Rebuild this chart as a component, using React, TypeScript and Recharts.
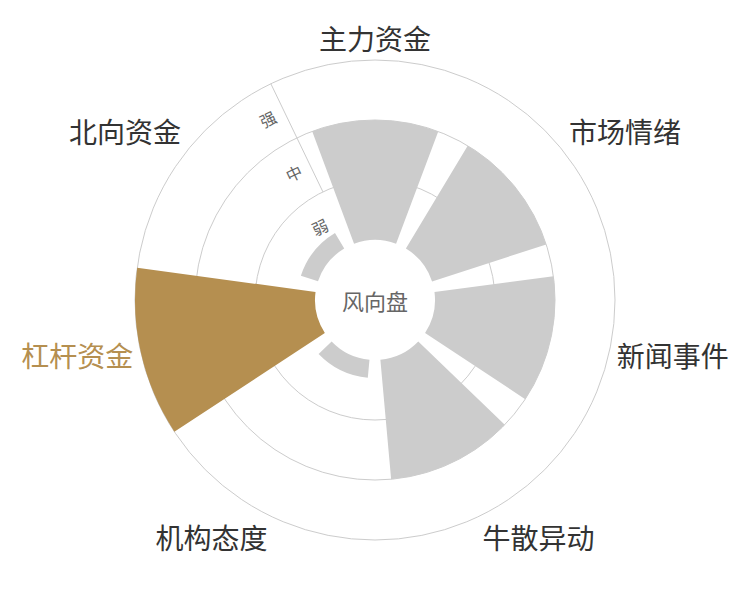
import { RadialBarChart, RadialBar, PolarAngleAxis, PolarRadiusAxis, PolarGrid, Cell } from "recharts";

const CATEGORIES = ["主力资金", "市场情绪", "新闻事件", "牛散异动", "机构态度", "杠杆资金", "北向资金"];
const STRENGTH = [2, 2, 2, 2, 0.3, 3, 0.3];
const LEVELS = ["弱", "中", "强"];
const LEVEL_TICKS = [1, 2, 3];
const HIGHLIGHT = "杠杆资金";
const CENTER_LABEL = "风向盘";

const W = 750;
const H = 600;
const CX = 375;
const CY = 300;
const INNER = 60;
const OUTER = 240;
const SLICE = 360 / CATEGORIES.length;
// recharts draws each band counter-clockwise from its tick, so start half a slice right of 12 o'clock
const START = 90 - SLICE / 2;
const GOLD = "#b58f50";
const GREY = "#cccccc";
const LINE = "#cccccc";
const FONT = '"Noto Sans CJK SC", "Noto Sans", sans-serif';

const data = CATEGORIES.map((name, i) => ({ name, value: STRENGTH[i] }));

function CategoryTick(props: any) {
  const { x, y, payload } = props;
  // tick sits on the band edge; move it to the band middle
  const a = Math.atan2(-(y - CY), x - CX) + ((SLICE / 2) * Math.PI) / 180;
  const ux = Math.cos(a);
  const uy = -Math.sin(a);
  const R = OUTER + 8;
  const px = CX + ux * R;
  const py = CY + uy * R;
  const anchor = ux > 0.1 ? "start" : ux < -0.1 ? "end" : "middle";
  const yOff = Math.abs(uy) < 0.3 ? 0 : uy > 0 ? 14 : -14;
  const on = payload.value === HIGHLIGHT;
  return (
    <text
      x={px}
      y={py + yOff}
      textAnchor={anchor}
      dominantBaseline="central"
      fontSize={28}
      fontFamily={FONT}
      fill={on ? GOLD : "#333333"}
    >
      {payload.value}
    </text>
  );
}

function LevelTick(props: any) {
  const { x, y, payload } = props;
  const idx = LEVEL_TICKS.indexOf(Number(payload.value));
  if (idx < 0) return null;
  const dx = x - CX;
  const dy = y - CY;
  const r = Math.hypot(dx, dy) || 1;
  const ux = dx / r;
  const uy = dy / r;
  // label sits in the middle of its band, a little off the axis line
  const half = (OUTER - INNER) / LEVELS.length / 2;
  const px = CX + ux * (r - half) + uy * 18;
  const py = CY + uy * (r - half) - ux * 18;
  const rot = (Math.atan2(ux, -uy) * 180) / Math.PI;
  return (
    <text
      x={px}
      y={py}
      textAnchor="middle"
      dominantBaseline="central"
      fontSize={16}
      fontFamily={FONT}
      fill="#666666"
      transform={`rotate(${rot}, ${px}, ${py})`}
    >
      {LEVELS[idx]}
    </text>
  );
}

export default function App() {
  return (
    <div style={{ position: "absolute", left: 0, top: 0, width: W, height: H, background: "#fff", fontFamily: FONT }}>
      <RadialBarChart
        width={W}
        height={H}
        data={data}
        layout="centric"
        cx={CX}
        cy={CY}
        innerRadius={INNER}
        outerRadius={OUTER}
        startAngle={START}
        endAngle={START - 360}
        barCategoryGap="10%"
        margin={{ top: 0, right: 0, bottom: 0, left: 0 }}
      >
        <PolarGrid gridType="circle" radialLines={false} stroke={LINE} />
        <PolarAngleAxis dataKey="name" type="category" tickLine={false} axisLine={false} tick={<CategoryTick />} />
        <PolarRadiusAxis
          type="number"
          domain={[0, 3]}
          ticks={LEVEL_TICKS}
          angle={START + SLICE}
          axisLine={{ stroke: LINE }}
          tick={<LevelTick />}
        />
        <RadialBar dataKey="value" isAnimationActive={false} stroke="none">
          {data.map((d) => (
            <Cell key={d.name} fill={d.name === HIGHLIGHT ? GOLD : GREY} />
          ))}
        </RadialBar>
      </RadialBarChart>
      <div
        style={{
          position: "absolute",
          left: CX - 60,
          top: CY - 16,
          width: 120,
          height: 32,
          lineHeight: "32px",
          textAlign: "center",
          fontSize: 22,
          color: "#666666",
        }}
      >
        {CENTER_LABEL}
      </div>
    </div>
  );
}
